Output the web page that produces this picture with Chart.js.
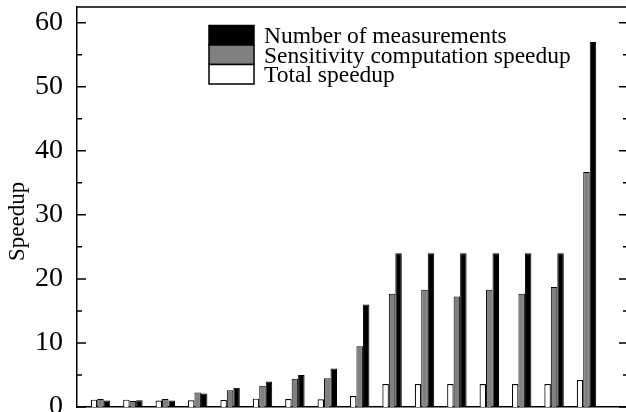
<!DOCTYPE html>
<html>
<head>
<meta charset="utf-8">
<title>Speedup</title>
<script src="https://cdn.jsdelivr.net/npm/chart.js@4/dist/chart.umd.min.js"></script>
<style>
  body { margin: 0; background: #fff; }
  #wrap { width: 626px; height: 412px; }
</style>
</head>
<body>
<div id="wrap"><canvas id="speedupChart" width="626" height="412"></canvas></div>
<script>
// groups along the x axis (no labels shown in the figure)
const groups = [1, 2, 3, 4, 5, 6, 7, 8, 9, 10, 11, 12, 13, 14, 15, 16];
const totalSpeedup = [1.15, 1.15, 1.0, 1.05, 1.1, 1.3, 1.25, 1.2, 1.7, 3.6, 3.6, 3.6, 3.6, 3.6, 3.6, 4.2];
const sensitivitySpeedup = [1.25, 0.95, 1.25, 2.25, 2.6, 3.3, 4.4, 4.5, 9.5, 17.7, 18.3, 17.25, 18.3, 17.7, 18.75, 36.7];
const measurements = [1, 1.05, 1, 2.1, 3, 4, 5, 6, 16, 24, 24, 24, 24, 24, 24, 57];
const yTicks = [0, 10, 20, 30, 40, 50, 60];

const serif = "'Liberation Serif', 'Times New Roman', serif";

function points(values) {
  return values.map(function(v, i) { return { x: groups[i], y: v }; });
}

// inward tick marks on both sides + top frame line
const frameTicks = {
  id: 'frameTicks',
  afterDraw: function(chart) {
    const ctx = chart.ctx;
    const area = chart.chartArea;
    const y = chart.scales.y;
    ctx.save();
    ctx.strokeStyle = '#000';
    ctx.lineWidth = 1.5;
    ctx.beginPath();
    ctx.moveTo(area.left, area.top);
    ctx.lineTo(area.right, area.top);
    for (let v = 0; v <= 60; v += 5) {
      const py = y.getPixelForValue(v);
      const major = v % 10 === 0;
      ctx.moveTo(area.left, py);
      ctx.lineTo(area.left + (major ? 9 : 5), py);
      ctx.moveTo(area.right, py);
      ctx.lineTo(area.right - (major ? 7 : 3), py);
    }
    ctx.stroke();
    ctx.restore();
  }
};

// stacked legend boxes inside the plot, top item first
const boxLegend = {
  id: 'boxLegend',
  afterDraw: function(chart) {
    const ctx = chart.ctx;
    const area = chart.chartArea;
    const x = area.left + 132;
    let top = area.top + 18.5;
    const w = 45, h = 19.5;
    ctx.save();
    ctx.font = '23.5px ' + serif;
    ctx.textBaseline = 'alphabetic';
    ctx.textAlign = 'left';
    const order = chart.data.datasets.slice().reverse();
    order.forEach(function(ds) {
      ctx.fillStyle = ds.backgroundColor;
      ctx.fillRect(x, top, w, h);
      ctx.strokeStyle = '#000';
      ctx.lineWidth = 1.5;
      ctx.strokeRect(x, top, w, h);
      ctx.fillStyle = '#000';
      ctx.fillText(ds.label, x + w + 10, top + h - 2);
      top += h;
    });
    ctx.restore();
  }
};

const ctx = document.getElementById('speedupChart').getContext('2d');
const chart = new Chart(ctx, {
  type: 'bar',
  data: {
    datasets: [{
      label: 'Total speedup',
      data: points(totalSpeedup),
      backgroundColor: '#ffffff',
      borderColor: '#000000',
      borderWidth: 1.2
    }, {
      label: 'Sensitivity computation speedup',
      data: points(sensitivitySpeedup),
      backgroundColor: '#808080',
      borderColor: '#000000',
      borderWidth: 1
    }, {
      label: 'Number of measurements',
      data: points(measurements),
      backgroundColor: '#000000',
      borderColor: '#000000',
      borderWidth: 1
    }]
  },
  options: {
    responsive: false,
    animation: false,
    categoryPercentage: 0.6,
    barPercentage: 1.0,
    layout: { padding: { top: 7, right: 0, bottom: 5, left: 0 } },
    plugins: {
      legend: { display: false },
      tooltip: { enabled: false }
    },
    scales: {
      x: {
        type: 'linear',
        offset: false,
        min: 0.275,
        max: 17.22,
        ticks: { display: false },
        grid: { display: false, drawTicks: false },
        border: { display: true, color: '#000', width: 1.5 },
        afterFit: function(scale) {
          scale.height = 0;
          scale.paddingLeft = 0;
          scale.paddingRight = 0;
        }
      },
      y: {
        min: 0,
        max: 62.45,
        ticks: {
          stepSize: 10,
          includeBounds: false,
          padding: 14,
          color: '#000',
          font: { family: serif, size: 28 },
          callback: function(v) { return yTicks.indexOf(v) >= 0 ? v : ''; }
        },
        grid: { display: false, drawTicks: false },
        border: { display: true, color: '#000', width: 1.5 },
        title: {
          display: true,
          text: 'Speedup     ',
          color: '#000',
          font: { family: serif, size: 23 },
          padding: { top: 4, bottom: 0 }
        },
        afterFit: function(scale) {
          scale.width = 77;
          scale.paddingTop = 0;
          scale.paddingBottom = 0;
        }
      }
    }
  },
  plugins: [frameTicks, boxLegend]
});
</script>
</body>
</html>
